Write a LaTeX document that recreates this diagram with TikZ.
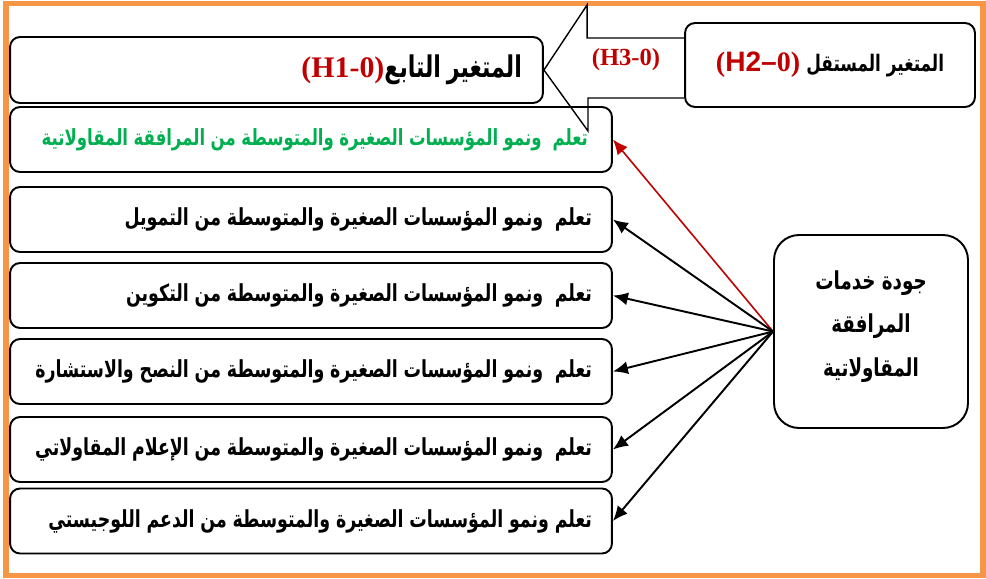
\documentclass[tikz,border=0pt]{standalone}
\usepackage{fontspec}
\usepackage{graphicx}
\usepackage{xcolor}
\usepackage{tikz}
\usetikzlibrary{arrows.meta, positioning}
\TeXXeTstate=1
\newfontfamily\arabicfont[Script=Arabic]{DejaVu Sans}
\newfontfamily\latserif{Liberation Serif}
\newfontfamily\latsans{Liberation Sans}
\definecolor{frameorange}{HTML}{F79646}
\definecolor{hred}{HTML}{C00000}
\definecolor{hgreen}{HTML}{00B050}
\newcommand{\artxt}[1]{\scalebox{1}[1.35]{\arabicfont\bfseries\beginR #1\endR}}

\begin{document}
\begin{tikzpicture}[x=0.02cm, y=-0.02cm, >=latex, font=\fontsize{9.9}{12}\selectfont\arabicfont\bfseries]
		\tikzstyle{item} = [draw=black, line width=1.1pt, rounded corners=0.2cm, minimum width=12.04cm, minimum height=1.3cm, inner xsep=0.4cm, text width=11.24cm, align=right]
		\tikzstyle{head} = [draw=black, line width=1.1pt, rounded corners=0.2cm, align=center]
		\tikzstyle{arrow} = [line width=1.1pt, -{Latex[length=3mm, width=2.6mm]}]
		\tikzstyle{blockarr} = [draw=black, line width=0.8pt, line join=miter]
		
		\useasboundingbox (0,0) rectangle (986,578);
		\draw[frameorange, line width=3.4pt] (6,3.5) rectangle (983,575.5);
		
		\node[head, minimum width=10.66cm, minimum height=1.32cm, inner xsep=0.42cm, text width=9.82cm, align=right]	at (276.5, 70)	(dep)	{{\latserif\fontsize{17}{19}\selectfont\bfseries\color{hred}(H1-0)}\artxt{\fontsize{12.6}{15}\selectfont المتغير التابع}};
		\node[head, minimum width=5.8cm, minimum height=1.68cm]	at (830, 65)	(indep)	{\beginL{\fontsize{16}{18}\selectfont\bfseries\color{hred}\latserif(\latsans H2–\latserif 0)}\endL{} \artxt{\fontsize{9.6}{12}\selectfont المتغير المستقل}};
		
		\node[item, text=hgreen, font=\fontsize{9.4}{12}\selectfont\arabicfont\bfseries]	at (311, 139.5)	(g1)	{\makebox[\linewidth][r]{\artxt{تعلم~ ونمو المؤسسات الصغيرة والمتوسطة من المرافقة المقاولاتية}\hspace*{0.08cm}}};
		\node[item]	at (311, 219.5)	(g2)	{\artxt{تعلم~ ونمو المؤسسات الصغيرة والمتوسطة من التمويل}};
		\node[item]	at (311, 295.5)	(g3)	{\artxt{تعلم~ ونمو المؤسسات الصغيرة والمتوسطة من التكوين}};
		\node[item]	at (311, 371.5)	(g4)	{\artxt{تعلم~ ونمو المؤسسات الصغيرة والمتوسطة من النصح والاستشارة}};
		\node[item]	at (311, 449.5)	(g5)	{\artxt{تعلم~ ونمو المؤسسات الصغيرة والمتوسطة من الإعلام المقاولاتي}};
		\node[item]	at (311, 521)	(g6)	{\artxt{تعلم ونمو المؤسسات الصغيرة والمتوسطة من الدعم اللوجيستي}};
		
		\node[head, rounded corners=0.5cm, minimum width=3.88cm, minimum height=3.86cm, font=\fontsize{10.4}{25}\selectfont\arabicfont\bfseries]	at (871, 331.5)	(src)	{\artxt{جودة خدمات}\\ \artxt{المرافقة}\\ \artxt{المقاولاتية}\\[-16pt] \mbox{}};
		
		% big hollow arrow between the two variables
		\draw[blockarr] ([yshift=0.54cm]indep.west) -- ++(-97,0) -- ++(0,-33) -- (dep.east) -- (588,131) |- ([yshift=-0.66cm]indep.west);
		\node[text=hred, font=\latserif\fontsize{14}{16}\selectfont\bfseries]	at (626, 60)	(h3)	{(H3-0)};
		
		\draw [arrow, hred, line width=0.9pt] (src.west) -- (g1.east);
		\draw [arrow] (src.west) -- (g2.east);
		\draw [arrow] (src.west) -- (g3.east);
		\draw [arrow] (src.west) -- (g4.east);
		\draw [arrow] (src.west) -- (g5.east);
		\draw [arrow] (src.west) -- (g6.east);
		
	\end{tikzpicture}
\end{document}
